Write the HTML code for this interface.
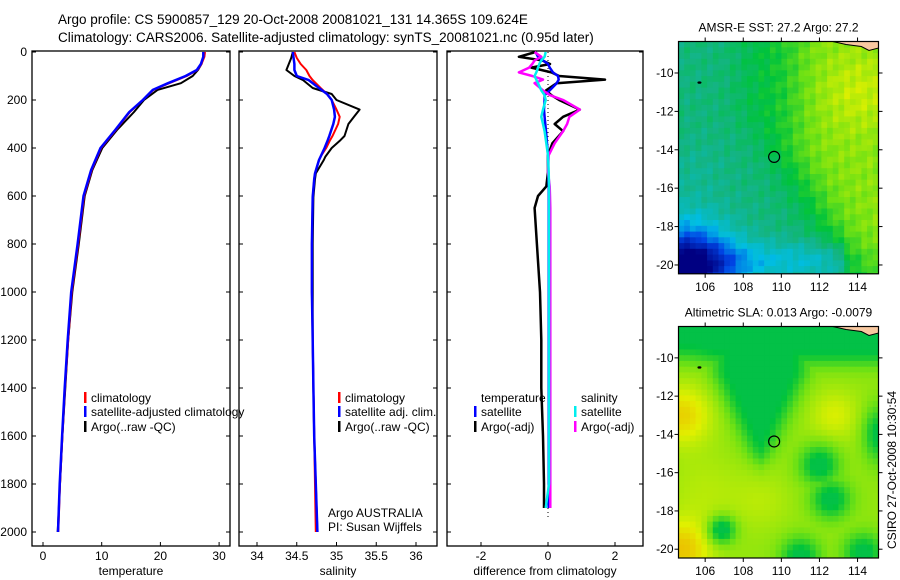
<!DOCTYPE html>
<html><head><meta charset="utf-8"><style>
body{margin:0;background:#fff;}
svg{display:block;font-family:"Liberation Sans",sans-serif;}
</style></head><body>
<svg id="fig" width="900" height="580" viewBox="0 0 900 580" xmlns="http://www.w3.org/2000/svg">
<text x="58" y="24" font-size="13.5">Argo profile: CS 5900857_129 20-Oct-2008 20081021_131 14.365S 109.624E</text>
<text x="58" y="42" font-size="13.5">Climatology: CARS2006. Satellite-adjusted climatology: synTS_20081021.nc (0.95d later)</text>
<g id="panels"></g>
<g id="maps"></g>
<text transform="translate(896,470) rotate(-90)" text-anchor="middle" font-size="12">CSIRO 27-Oct-2008 10:30:54</text>
</svg>
<script>
// ---- data ----
const depthT = [0,20,50,75,100,130,158,200,250,325,400,492,600,800,1000,1200,1400,1600,1800,2000];
const tempClim = [27.6,27.5,27.0,26.3,24.5,21.5,18.8,17.0,14.8,12.4,9.9,8.3,7.0,6.0,4.9,4.3,3.75,3.3,2.9,2.6];
const tempSat = [27.3,27.3,26.9,26.2,24.3,21.3,18.7,17.0,14.7,12.3,9.8,8.2,6.9,5.9,4.8,4.2,3.7,3.25,2.85,2.55];
const tempArgo = [27.4,27.3,27.0,26.4,25.5,23.5,19.5,17.2,15.5,12.6,10.1,8.4,7.1,6.1,5.0,4.3,3.8,3.3,2.9,2.5];
const depthS = [0,25,50,75,100,117,150,175,200,240,270,300,350,367,400,436,450,506,530,604,800,1000,1200,1400,1600,1800,2000];
const salClim = [34.47,34.5,34.55,34.62,34.66,34.7,34.8,34.88,34.94,35.0,35.04,35.02,34.95,34.92,34.87,34.8,34.78,34.73,34.72,34.7,34.69,34.69,34.7,34.71,34.72,34.73,34.74];
const salSat = [34.45,34.46,34.47,34.47,34.5,34.65,34.78,34.88,34.94,34.97,34.98,34.96,34.91,34.89,34.85,34.8,34.78,34.73,34.72,34.7,34.69,34.69,34.7,34.71,34.72,34.74,34.76];
const salArgo = [34.45,34.43,34.4,34.37,34.47,34.58,34.7,34.94,35.0,35.29,35.22,35.15,35.1,35.05,34.94,34.86,34.84,34.74,34.73,34.71,34.7,34.7,34.7,34.71,34.72,34.74,34.76];
const depthD = [0,20,35,50,65,85,100,115,130,160,180,200,240,270,300,330,380,430,500,560,600,650,800,1000,1200,1400,1600,1800,1900];
const tempArgoDiff = [-0.37,-0.87,-0.18,0.06,-0.5,0.1,0.33,1.7,0.26,-0.06,0.1,0.33,0.95,0.45,0.2,0.45,0.13,0,0,-0.05,-0.3,-0.4,-0.33,-0.24,-0.2,-0.2,-0.15,-0.12,-0.12];
const tempSatDiff = [-0.37,-0.3,-0.15,0,0.05,0.15,0.3,0.32,0.26,0.05,-0.1,-0.1,-0.12,-0.1,-0.08,-0.06,-0.03,0,0.01,0.02,0.02,0.02,0.02,0.02,0.02,0.02,0.02,0.02,0.02];
const salArgoDiff = [-0.4,-0.2,-0.4,-0.47,-0.56,-0.87,-0.47,-0.15,-0.4,-0.15,0.06,0.45,0.95,0.64,0.57,0.45,0.2,0.02,0,0.05,0.06,0.07,0.07,0.07,0.07,0.07,0.07,0.07,0.07];
const salSatDiff = [-0.07,-0.1,-0.2,-0.26,-0.3,-0.35,-0.4,-0.35,-0.3,-0.2,-0.1,-0.07,-0.15,-0.2,-0.15,-0.1,-0.05,0,0.02,0.03,0.03,0.03,0.03,0.03,0.03,0.03,0.03,0.03,-0.07];
const depthTicks = [0,200,400,600,800,1000,1200,1400,1600,1800,2000];
const tempTicks = [0,10,20,30];
const salTicks = [34,34.5,35,35.5,36];
const diffTicks = [-2,0,2];
const lonTicks = [106,108,110,112,114];
const latTicks = [-10,-12,-14,-16,-18,-20];

const NS="http://www.w3.org/2000/svg";
function mk(tag,attrs,parent){const e=document.createElementNS(NS,tag);for(const k in attrs)e.setAttribute(k,attrs[k]);parent.appendChild(e);return e;}
const yD = d => 52 + 0.24*d;
const TOP=51, BOT=546;
const panelsG=document.getElementById('panels');

function panel(name,x0,x1,v0,pxPer,ticks,title){
  const g=mk('g',{},panelsG);
  
  
  const xs=v=>v0+pxPer*v;
  const fr=mk('rect',{x:x0,y:TOP,width:x1-x0,height:BOT-TOP,fill:'none',stroke:'#000','stroke-width':1.3},g);
  
  
  depthTicks.forEach(d=>{
    const y=yD(d);
    mk('line',{x1:x0,x2:x0+4,y1:y,y2:y,stroke:'#000'},g);
    mk('line',{x1:x1-4,x2:x1,y1:y,y2:y,stroke:'#000'},g);
    if(name==='temperature-panel'){
      const t=mk('text',{x:x0-5,y:y+4,'text-anchor':'end','font-size':12},g);
      t.textContent=d;
      
      
    }
  });
  ticks.forEach(v=>{
    const x=xs(v);
    mk('line',{x1:x,x2:x,y1:BOT,y2:BOT-4,stroke:'#000'},g);
    const t=mk('text',{x:x,y:560,'text-anchor':'middle','font-size':12},g);
    t.textContent=v;
    
    
  });
  const tt=mk('text',{x:(x0+x1)/2,y:575,'text-anchor':'middle','font-size':12},g);
  tt.textContent=title;
  
  
  return {g,xs};
}
function line(p,depths,vals,color,w,name){
  const pts=depths.map((d,i)=>p.xs(vals[i]).toFixed(1)+','+yD(d).toFixed(1)).join(' ');
  const l=mk('polyline',{points:pts,fill:'none',stroke:color,'stroke-width':w,'stroke-linejoin':'round'},p.g);
  
  
}
function legend(p,x,y,color,label,name){
  const g=mk('g',{},p.g);
  
  
  if(color) mk('rect',{x:x,y:y-10,width:2.5,height:11,fill:color},g);
  const t=mk('text',{x:x+7,y:y,'font-size':12},g);
  t.textContent=label;
}
const p1=panel('temperature-panel',32,230,43,5.87,tempTicks,'temperature');
line(p1,depthT,tempArgo,'#000',2,'argo-temperature-line');
line(p1,depthT,tempClim,'#f00',2,'climatology-temperature-line');
line(p1,depthT,tempSat,'#00f',2.5,'satellite-temperature-line');
legend(p1,84,402,'#f00','climatology','legend-climatology');
legend(p1,84,416,'#00f','satellite-adjusted climatology','legend-satellite');
legend(p1,84,431,'#000','Argo(..raw -QC)','legend-argo');
const p2=panel('salinity-panel',239,437,257-79.5*34,79.5,salTicks,'salinity');
line(p2,depthS,salArgo,'#000',2,'argo-salinity-line');
line(p2,depthS,salClim,'#f00',2,'climatology-salinity-line');
line(p2,depthS,salSat,'#00f',2.5,'satellite-salinity-line');
legend(p2,338,402,'#f00','climatology','legend-climatology');
legend(p2,338,416,'#00f','satellite adj. clim.','legend-satellite');
legend(p2,338,431,'#000','Argo(..raw -QC)','legend-argo');
const ta=mk('text',{x:328,y:517,'font-size':12},p2.g);ta.textContent='Argo AUSTRALIA';

const tb=mk('text',{x:328,y:531,'font-size':12},p2.g);tb.textContent='PI: Susan Wijffels';

const p3=panel('difference-panel',447,643,548,33.5,diffTicks,'difference from climatology');
mk('line',{x1:548,x2:548,y1:yD(0),y2:yD(1950),stroke:'#000','stroke-dasharray':'1,3'},p3.g);
line(p3,depthD,tempArgoDiff,'#000',2.5,'argo-temperature-diff-line');
line(p3,depthD,tempSatDiff,'#00f',2.5,'satellite-temperature-diff-line');
line(p3,depthD,salArgoDiff,'#f0f',2.5,'argo-salinity-diff-line');
line(p3,depthD,salSatDiff,'#0ee',2.5,'satellite-salinity-diff-line');
legend(p3,474,402,null,'temperature','legend-temperature-header');
legend(p3,474,416,'#00f','satellite','legend-temp-satellite');
legend(p3,474,431,'#000','Argo(-adj)','legend-temp-argo');
legend(p3,574,402,null,'salinity','legend-salinity-header');
legend(p3,574,416,'#0ee','satellite','legend-sal-satellite');
legend(p3,574,431,'#f0f','Argo(-adj)','legend-sal-argo');

// ---- maps ----
const mapsG=document.getElementById('maps');
const cmap=[[0,[0,0,130]],[0.2,[0,70,230]],[0.35,[0,190,230]],[0.5,[20,180,130]],[0.6,[0,195,60]],[0.72,[110,225,20]],[0.85,[225,240,0]],[1,[245,150,0]]];
function col(v){v=Math.max(0,Math.min(1,v));for(let i=1;i<cmap.length;i++){if(v<=cmap[i][0]){const a=cmap[i-1],b=cmap[i];const f=(v-a[0])/(b[0]-a[0]);const c=a[1].map((x,k)=>Math.round(x+(b[1][k]-x)*f));return 'rgb('+c.join(',')+')';}}return 'rgb(245,150,0)';}
const blob=(lo,la,cx,cy,r,a)=>a*Math.exp(-((lo-cx)*(lo-cx)+(la-cy)*(la-cy))/(r*r));
const sig=t=>1/(1+Math.exp(-t));
function sstField(lo,la){
  const b0=108+Math.max(0,(-la-12))*0.6, b1=110.8+Math.max(0,(-la-14))*0.55;
  const q=(la+19.8)/1.0;
  let v=0.51+0.09*sig((lo-b0)/0.6)+0.15*sig((lo-b1)/0.6)+blob(lo,la,114,-11,2,0.07)
    +blob(lo,la,105,-20.3,2.4,-0.5)-0.13*Math.exp(-(q*q))*(lo<113.3?1:0.2)+blob(lo,la,105.5,-15,1.5,-0.03);
  v+=0.035*Math.sin(lo*37.1+la*91.7)*Math.cos(lo*13.3-la*27.9);return v;}
function slaField(lo,la){
  let y=0.76+blob(lo,la,112.8,-13,1.3,0.08)+blob(lo,la,106,-17,2,0.04)+blob(lo,la,104.8,-13,1.5,0.14)+blob(lo,la,104.8,-20,1.5,0.16)+blob(lo,la,109,-17.5,1.5,0.04);
  const hw=2.3*Math.max(0,Math.min(1,(la+15.8)/5.0));
  const wedge=sig((hw-Math.abs(lo-108.9))/0.35)*sig((la+15.6)/0.3);
  const topband=sig((la+10.2)/0.3)*(1-0.5*sig((106-lo)/0.4)*sig((-9.7-la)/0.3));
  const r=(la+14)/1.4;
  const rightStrip=sig((lo-114.5)/0.25)*Math.exp(-(r*r));
  let m=Math.max(wedge,topband,rightStrip,blob(lo,la,112,-15.6,1.0,1),blob(lo,la,112.6,-17.4,1.0,1),blob(lo,la,106.9,-19,0.7,1),blob(lo,la,111,-20.4,1.0,1),blob(lo,la,114.3,-20.2,1.0,1));
  m=Math.min(1,m*1.15);
  return y*(1-m)+0.585*m;}
let mapCount=0;
function drawMap(name,top,bot,title,field){
  const g=mk('g',{},mapsG);
  
  
  const L=678.5,R=878.5,lon0=104.6,lon1=115.1,lat0=-8.36,lat1=-20.46;
  const xs=lo=>L+(lo-lon0)*(R-L)/(lon1-lon0), ys=la=>top+(lat0-la)*(bot-top)/(lat0-lat1);
  const cid='clip'+(mapCount++);
  const cp=mk('clipPath',{id:cid},g);mk('rect',{x:L,y:top,width:R-L,height:bot-top},cp);
  const cg=mk('g',{'clip-path':'url(#'+cid+')'},g);
  const step=0.3;
  for(let lo=lon0;lo<lon1;lo+=step){for(let la=lat0;la>lat1;la-=step){
    mk('rect',{x:xs(lo).toFixed(1),y:ys(la).toFixed(1),width:(xs(lo+step)-xs(lo)+0.6).toFixed(1),height:(ys(la-step)-ys(la)+0.6).toFixed(1),fill:col(field(lo+step/2,la-step/2))},cg);
  }}
  mk('path',{d:`M${xs(112.7)} ${top} L${xs(113.4)} ${top+3} L${xs(114.2)} ${top+5} L${xs(114.6)} ${top+9} L${xs(115.2)} ${top+6} L${xs(115.2)} ${top} Z`,fill:'#f8c8a0',stroke:'#000','stroke-width':1},cg);
  mk('ellipse',{cx:xs(105.7),cy:ys(-10.5),rx:2,ry:1.2,fill:'#000'},g);
  const c=mk('circle',{cx:xs(109.62),cy:ys(-14.37),r:5.5,fill:'none',stroke:'#000','stroke-width':1.2},g);
  
  
  mk('rect',{x:L,y:top,width:R-L,height:bot-top,fill:'none',stroke:'#000','stroke-width':1.2},g);
  latTicks.forEach(la=>{const y=ys(la);mk('line',{x1:L-4,x2:L,y1:y,y2:y,stroke:'#000'},g);mk('line',{x1:R,x2:R+4,y1:y,y2:y,stroke:'#000'},g);
    const t=mk('text',{x:L-5,y:y+4,'text-anchor':'end','font-size':12},g);t.textContent=la;
    });
  lonTicks.forEach(lo=>{const x=xs(lo);mk('line',{x1:x,x2:x,y1:bot,y2:bot+4,stroke:'#000'},g);mk('line',{x1:x,x2:x,y1:top-4,y2:top,stroke:'#000'},g);
    const t=mk('text',{x:x,y:bot+17,'text-anchor':'middle','font-size':12},g);t.textContent=lo;
    });
  const tt=mk('text',{x:(L+R)/2,y:top-10,'text-anchor':'middle','font-size':12},g);tt.textContent=title;
  
}
drawMap('sst-map',41.5,273.8,'AMSR-E SST: 27.2 Argo: 27.2',sstField);
drawMap('sla-map',326.5,558,'Altimetric SLA: 0.013 Argo: -0.0079',slaField);
</script>
</body></html>
